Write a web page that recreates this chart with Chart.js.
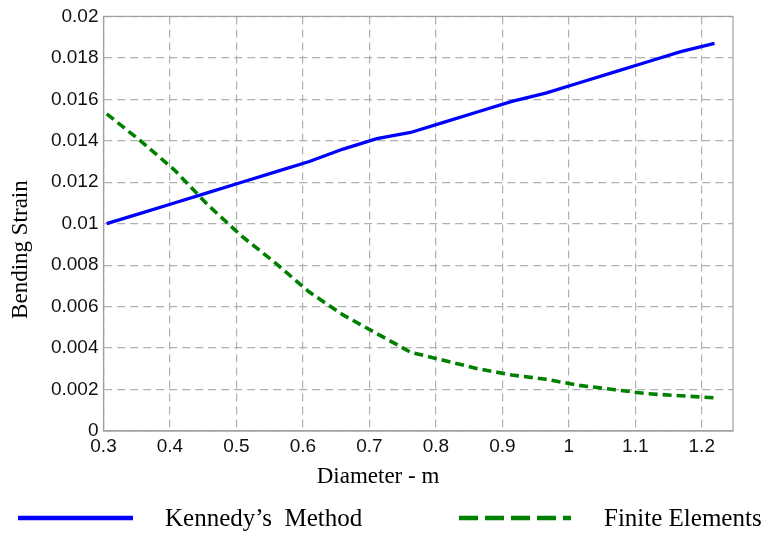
<!DOCTYPE html>
<html>
<head>
<meta charset="utf-8">
<script src="https://cdn.jsdelivr.net/npm/chart.js@4/dist/chart.umd.min.js"></script>
<style>
  html, body { margin: 0; padding: 0; background: #fff; }
  #wrap { width: 767px; height: 537px; }
</style>
</head>
<body>
<div id="wrap"><canvas id="c" width="767" height="537"></canvas></div>
<script>
// Diameters (m) — 12" to 48" in 2" steps
const diameters = [0.3048, 0.3556, 0.4064, 0.4572, 0.508, 0.5588, 0.6096, 0.6604, 0.7112, 0.762,
                   0.8128, 0.8636, 0.9144, 0.9652, 1.016, 1.0668, 1.1176, 1.1684, 1.2192];
const kennedyMethod = [0.0100, 0.0105, 0.0110, 0.0115, 0.0120, 0.0125, 0.0130, 0.0136, 0.0141, 0.0144,
                       0.0149, 0.0154, 0.0159, 0.0163, 0.0168, 0.0173, 0.0178, 0.0183, 0.0187];
const finiteElements = [0.0153, 0.0140, 0.0126, 0.0109, 0.0094, 0.0081, 0.0067, 0.0056, 0.0047, 0.0038,
                        0.0034, 0.0030, 0.0027, 0.0025, 0.0022, 0.0020, 0.0018, 0.0017, 0.0016];
const seriesLabels = ["Kennedy\u2019s  Method", "Finite Elements"];
const xTitle = "Diameter - m";
const yTitle = "Bending Strain";

const toPts = (ys) => diameters.map((x, i) => ({ x: x, y: ys[i] }));

const frame = {
  id: 'frame',
  afterDatasetsDraw(chart) {
    const { ctx, chartArea: a } = chart;
    ctx.save();
    ctx.strokeStyle = '#a0a0a0';
    ctx.lineWidth = 1.2;
    ctx.setLineDash([]);
    ctx.strokeRect(a.left, a.top, a.right - a.left, a.bottom - a.top);
    ctx.restore();
  }
};

const legendPlugin = {
  id: 'bottomLegend',
  afterDraw(chart) {
    const { ctx } = chart;
    const ds = chart.data.datasets;
    const items = [
      { x0: 18, x1: 133, tx: 165 },
      { x0: 459, x1: 571, tx: 604 }
    ];
    const y = 518;
    ctx.save();
    ds.forEach((d, i) => {
      const it = items[i];
      ctx.strokeStyle = d.borderColor;
      ctx.lineWidth = 4.5;
      ctx.setLineDash(d.borderDash ? [19, 7] : []);
      ctx.beginPath();
      ctx.moveTo(it.x0, y);
      ctx.lineTo(it.x1, y);
      ctx.stroke();
      ctx.setLineDash([]);
      ctx.fillStyle = '#000';
      ctx.font = '25px "Liberation Serif", "Times New Roman", serif';
      ctx.textBaseline = 'middle';
      ctx.textAlign = 'left';
      ctx.fillText(d.label, it.tx, y + 1);
    });
    ctx.restore();
  }
};

new Chart(document.getElementById('c'), {
  type: 'line',
  data: {
    datasets: [
      {
        label: seriesLabels[0],
        data: toPts(kennedyMethod),
        borderColor: '#0000ff',
        borderWidth: 3.3,
        pointRadius: 0,
        tension: 0,
        fill: false
      },
      {
        label: seriesLabels[1],
        data: toPts(finiteElements),
        borderColor: '#008000',
        borderWidth: 3.6,
        borderDash: [9, 5],
        pointRadius: 0,
        tension: 0,
        fill: false
      }
    ]
  },
  options: {
    responsive: false,
    animation: false,
    layout: { padding: { left: 0, right: 34, top: 14, bottom: 40 } },
    plugins: { legend: { display: false }, tooltip: { enabled: false } },
    scales: {
      x: {
        type: 'linear',
        min: 0.3,
        max: 1.247,
        afterFit: (s) => { s.height = 66; },
        ticks: {
          stepSize: 0.1,
          includeBounds: false,
          padding: 4,
          color: '#111',
          font: { family: '"Liberation Sans", Arial, sans-serif', size: 19 },
          callback: (v) => String(+Number(v).toFixed(3))
        },
        grid: { color: '#b0b0b0', lineWidth: 1.2, drawTicks: false },
        border: { display: true, color: '#a0a0a0', width: 1.2, dash: [8, 5] },
        title: {
          display: true,
          text: xTitle + '\u0020'.repeat(14),
          color: '#000',
          font: { family: '"Liberation Serif", "Times New Roman", serif', size: 23 },
          padding: { top: 0, bottom: 6 }
        }
      },
      y: {
        min: 0,
        max: 0.02,
        afterFit: (s) => { s.width = 103.5; },
        ticks: {
          stepSize: 0.002,
          padding: 5,
          color: '#111',
          font: { family: '"Liberation Sans", Arial, sans-serif', size: 19 },
          callback: (v) => String(+Number(v).toFixed(4))
        },
        grid: { color: '#b0b0b0', lineWidth: 1.2, drawTicks: false },
        border: { display: true, color: '#a0a0a0', width: 1.2, dash: [8, 5] },
        title: {
          display: true,
          text: yTitle + '\u0020'.repeat(9),
          color: '#000',
          font: { family: '"Liberation Serif", "Times New Roman", serif', size: 23 },
          padding: { top: 7, bottom: 0 }
        }
      }
    }
  },
  plugins: [frame, legendPlugin]
});
</script>
</body>
</html>
